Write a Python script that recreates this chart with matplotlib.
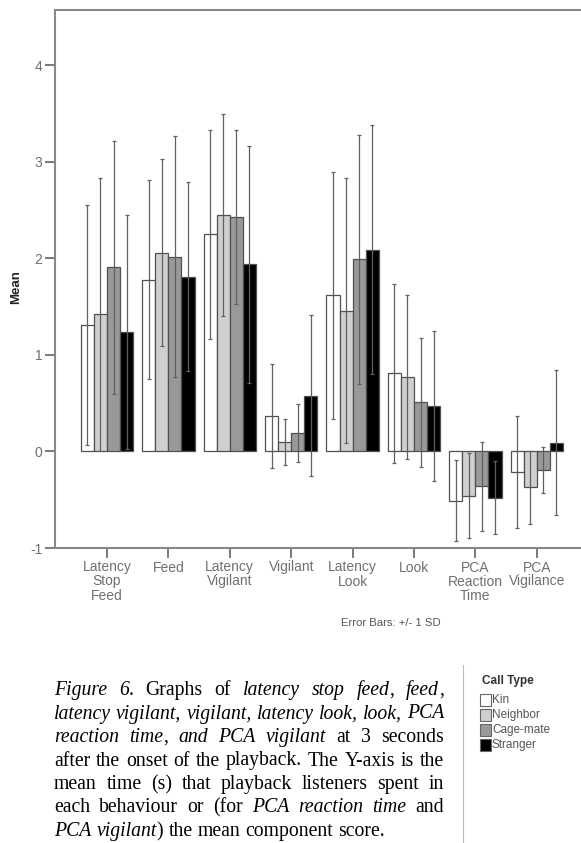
import matplotlib
matplotlib.use("Agg")
import matplotlib.pyplot as plt
import numpy as np
from matplotlib.lines import Line2D
from matplotlib.patches import Rectangle

# behaviours on the x axis
categories = ["Latency\nStop\nFeed", "Feed", "Latency\nVigilant", "Vigilant",
              "Latency\nLook", "Look", "PCA\nReaction\nTime", "PCA\nVigilance"]

# call types (legend)
call_types = ["Kin", "Neighbor", "Cage-mate", "Stranger"]

# means and standard deviations
kin_mean = [1.31, 1.78, 2.25, 0.37, 1.62, 0.81, -0.51, -0.21]
kin_sd = [1.24, 1.03, 1.08, 0.54, 1.28, 0.93, 0.42, 0.58]
neighbor_mean = [1.42, 2.06, 2.45, 0.10, 1.46, 0.77, -0.46, -0.37]
neighbor_sd = [1.41, 0.97, 1.05, 0.24, 1.37, 0.85, 0.44, 0.38]
cagemate_mean = [1.91, 2.02, 2.43, 0.19, 1.99, 0.51, -0.36, -0.19]
cagemate_sd = [1.31, 1.25, 0.90, 0.30, 1.29, 0.67, 0.46, 0.24]
stranger_mean = [1.24, 1.81, 1.94, 0.58, 2.09, 0.47, -0.48, 0.09]
stranger_sd = [1.21, 0.98, 1.23, 0.83, 1.29, 0.78, 0.38, 0.75]

y_ticks = [-1, 0, 1, 2, 3, 4]

# caption lines: (text, font style) pieces
caption_lines = [
    [("Figure 6", "italic"), (". Graphs of ", "normal"), ("latency stop feed", "italic"),
     (", ", "normal"), ("feed", "italic"), (",", "normal")],
    [("latency vigilant, vigilant, latency look, look, PCA", "italic")],
    [("reaction time", "italic"), (", ", "normal"), ("and PCA vigilant", "italic"),
     (" at 3 seconds", "normal")],
    [("after the onset of the playback. The Y-axis is the", "normal")],
    [("mean time (s) that playback listeners spent in", "normal")],
    [("each behaviour or (for ", "normal"), ("PCA reaction time", "italic"), (" and", "normal")],
    [("PCA vigilant", "italic"), (") the mean component score.", "normal")],
]

W, H = 581, 843
bar_colors = ["white", "#cfcfcf", "#999999", "black"]
gray = "#707070"
sans = ["Liberation Sans", "DejaVu Sans"]
serif = ["Liberation Serif", "DejaVu Serif"]


def fx(px):
    return px / W


def fy(py):
    return 1 - py / H


fig = plt.figure(figsize=(W / 100, H / 100), dpi=100)
ax = fig.add_axes([fx(55), fy(548), fx(W - 55), (548 - 10) / H])

means = [kin_mean, neighbor_mean, cagemate_mean, stranger_mean]
sds = [kin_sd, neighbor_sd, cagemate_sd, stranger_sd]
x = np.arange(len(categories))
bw = 0.213
for i, (m, s) in enumerate(zip(means, sds)):
    pos = x + (i - 1.5) * bw
    ax.bar(pos, m, width=bw, color=bar_colors[i], edgecolor="#505050",
           linewidth=0.9, zorder=2)
    ax.errorbar(pos, m, yerr=s, fmt="none", ecolor="#606060", elinewidth=0.9,
                capsize=1.3, capthick=0.9, zorder=3)

ax.set_xlim(-0.847, 7.72)
ax.set_ylim(-1, 4.575)
ax.set_yticks(y_ticks)
ax.set_yticklabels([str(t) for t in y_ticks], family=sans, fontsize=10, color=gray)
ax.set_xticks(x)
ax.set_xticklabels(categories, family=sans, fontsize=10, color=gray, linespacing=1.0)
ax.tick_params(axis="both", color=gray, width=1.3, length=7, pad=2)
for side in ["left", "bottom", "top"]:
    ax.spines[side].set_color("#888888")
    ax.spines[side].set_linewidth(1.5)
ax.spines["right"].set_visible(False)

fig.text(fx(16), fy(287), "Mean", rotation=90, ha="center", va="center",
         family=sans, fontsize=9.5, fontweight="bold", color="#222222")
fig.text(fx(391), fy(623), "Error Bars: +/- 1 SD", ha="center", va="center",
         family=sans, fontsize=8.2, color="#555555")

# caption, justified between left and right margins
renderer = fig.canvas.get_renderer()
left_px, right_px = 54, 444
base_px, step_px = 695, 23.5


def piece_width(s, style, size):
    t = fig.text(0, 0, s, fontsize=size, family=serif, style=style)
    w = t.get_window_extent(renderer).width
    t.remove()
    return w


def split_words(pieces):
    words, cur = [], []
    for txt, st in pieces:
        parts = txt.split(" ")
        for k, p in enumerate(parts):
            if k > 0:
                words.append(cur)
                cur = []
            if p:
                cur.append((p, st))
    words.append(cur)
    return [w for w in words if w]


# pick the font size so the widest line just fits with normal word spacing
ref_size = 10.0
sp_ref = piece_width("a a", "normal", ref_size) - piece_width("aa", "normal", ref_size)
natural = []
for pieces in caption_lines[:-1]:
    words = split_words(pieces)
    tw = sum(piece_width(p, st, ref_size) for w in words for p, st in w)
    natural.append(tw + sp_ref * (len(words) - 1))
cap_size = ref_size * (right_px - left_px) / max(natural)

space_w = piece_width("a a", "normal", cap_size) - piece_width("aa", "normal", cap_size)
for li, pieces in enumerate(caption_lines):
    words = split_words(pieces)
    widths = [[piece_width(p, st, cap_size) for p, st in w] for w in words]
    total = sum(sum(w) for w in widths)
    last = li == len(caption_lines) - 1
    gap = space_w if last else (right_px - left_px - total) / (len(words) - 1)
    cx = left_px
    y = base_px + li * step_px
    for w, ws in zip(words, widths):
        for (p, st), pw in zip(w, ws):
            fig.text(fx(cx), fy(y), p, fontsize=cap_size, family=serif, style=st,
                     va="baseline", ha="left", color="black")
            cx += pw
        cx += gap

# legend box at the lower right
fig.add_artist(Line2D([fx(463), fx(463)], [fy(665), fy(843)], color="#bbbbbb", lw=0.8))
fig.text(fx(482), fy(681), "Call Type", family=sans, fontsize=8.5, fontweight="bold",
         color="#333333", va="center", ha="left")
for i, name in enumerate(call_types):
    yc = 700 + i * 15
    fig.add_artist(Rectangle((fx(480), fy(yc + 6)), 11 / W, 12 / H, facecolor=bar_colors[i],
                             edgecolor="#666666", lw=0.8, transform=fig.transFigure))
    fig.text(fx(492), fy(yc), name, family=sans, fontsize=8.5, color="#555555",
             va="center", ha="left")

fig.savefig("out.png", dpi=100)
